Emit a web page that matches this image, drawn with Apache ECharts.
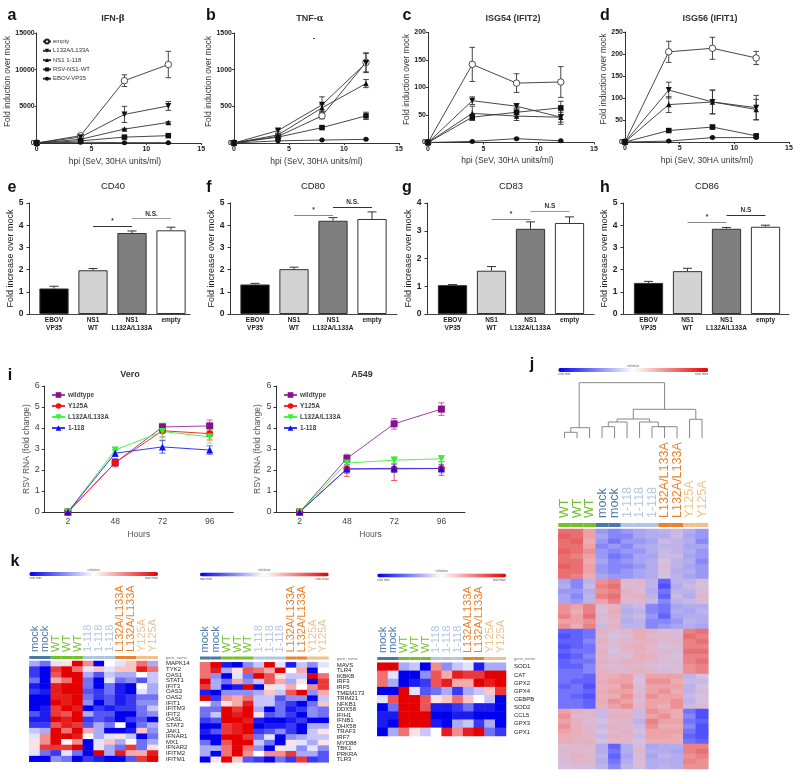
<!DOCTYPE html>
<html>
<head>
<meta charset="utf-8">
<title>NS1 panels</title>
<script src="https://cdn.jsdelivr.net/npm/echarts@6/dist/echarts.min.js"></script>
<style>
html, body { margin: 0; background: #fff; }
#main { width: 800px; height: 777px; filter: blur(0.3px); }
</style>
</head>
<body>
<div id="main"></div>
<script>
// time course panels a-d
const hpi = [0, 4, 8, 12];
const timeNames = ['empty', 'L132A/L133A', 'NS1 1-118', 'RSV-NS1-WT', 'EBOV-VP35'];
const ifnValues = [[0, 1000, 8500, 10700], [0, 800, 3900, 5050], [0, 500, 1900, 2800], [0, 300, 800, 1000], [0, 100, 50, 50]];
const ifnErrors = [[0, 100, 800, 1800], [0, 100, 1100, 600], [0, 60, 100, 120], [0, 50, 60, 80], [0, 20, 20, 20]];
const tnfValues = [[0, 90, 370, 1100], [0, 170, 520, 1090], [0, 110, 480, 810], [0, 80, 210, 370], [0, 30, 40, 50]];
const tnfErrors = [[0, 20, 40, 130], [0, 20, 110, 130], [0, 15, 50, 55], [0, 10, 15, 50], [0, 5, 5, 5]];
const isg54Values = [[0, 142, 108, 110], [0, 76, 66, 46], [0, 53, 48, 46], [0, 46, 55, 63], [0, 2, 7, 3]];
const isg54Errors = [[0, 31, 17, 28], [0, 7, 5, 13], [0, 13, 8, 9], [0, 5, 8, 12], [0, 1, 1, 1]];
const isg56Values = [[0, 205, 213, 191], [0, 118, 91, 78], [0, 85, 91, 74], [0, 26, 34, 14], [0, 2, 10, 10]];
const isg56Errors = [[0, 24, 25, 15], [0, 18, 27, 28], [0, 18, 27, 23], [0, 3, 4, 3], [0, 1, 1, 1]];

// bar panels e-h
const barNames = ['EBOV\nVP35', 'NS1\nWT', 'NS1\nL132A/L133A', 'empty'];
const cd40Values = [1.15, 1.97, 3.65, 3.77];
const cd40Errors = [0.1, 0.08, 0.09, 0.14];
const cd80Values = [1.33, 2.02, 4.2, 4.28];
const cd80Errors = [0.05, 0.09, 0.14, 0.32];
const cd83Values = [1.04, 1.56, 3.07, 3.28];
const cd83Errors = [0.02, 0.15, 0.25, 0.22];
const cd86Values = [1.4, 1.93, 3.84, 3.93];
const cd86Errors = [0.07, 0.13, 0.06, 0.07];
// from category, to category, height, text
const cd40Marks = [[1, 2, 3.96, '*'], [2, 3, 4.3, 'N.S.']];
const cd80Marks = [[1, 2, 4.47, '*'], [2, 3, 4.82, 'N.S.']];
const cd83Marks = [[1, 2, 3.43, '*'], [2, 3, 3.72, 'N.S']];
const cd86Marks = [[1, 2, 4.14, '*'], [2, 3, 4.46, 'N.S']];

// growth curves i, the trailing space keeps the legend apart from panel a
const hours = ['2', '48', '72', '96'];
const rsvNames = ['wildtype', 'Y125A', 'L132A/L133A ', '1-118'];
const veroValues = [[0, 2.35, 4.05, 4.1], [0, 2.35, 3.87, 3.73], [0, 2.95, 3.83, 3.58], [0, 2.8, 3.1, 2.95]];
const veroErrors = [[0, 0.2, 0.15, 0.28], [0, 0.15, 0.3, 0.3], [0, 0.1, 0.4, 0.3], [0, 0.15, 0.3, 0.2]];
const a549Values = [[0, 2.55, 4.2, 4.9], [0, 2.05, 2.05, 2.07], [0, 2.33, 2.47, 2.53], [0, 2.05, 2.08, 2.07]];
const a549Errors = [[0, 0.2, 0.25, 0.3], [0, 0.35, 0.55, 0.33], [0, 0.1, 0.15, 0.15], [0, 0.2, 0.2, 0.2]];

// heatmaps k
const kColumns = ['mock', 'mock', 'WT', 'WT', 'WT', '1-118', '1-118', '1-118', 'L132A/L133A', 'L132A/L133A', 'Y125A', 'Y125A'];
const ifnGenes = ['MAPK14', 'TYK2', 'OAS1', 'STAT1', 'IFIT3', 'OAS3', 'OAS2', 'IFIT1', 'IFITM3', 'IFIT2', 'OASL', 'STAT2', 'JAK1', 'IFNAR1', 'MX1', 'IFNAR2', 'IFITM2', 'IFITM1'];
const ifnRows = [
  [-3, -5, -1, 1, 9, 4, -9, 0, -1, 2, 5, -3],
  [-7, -9, 7, 9, 5, -1, 2, -1, 2, 2, 8, 5],
  [-7, -9, 6, 9, 9, -3, -6, -2, -3, -3, 0, -2],
  [-5, -9, 3, 5, 9, -5, -9, -1, -5, -4, -6, -2],
  [-8, -9, 8, 9, 9, -5, -9, -5, -8, -9, 0, -3],
  [-7, -8, 8, 9, 9, -6, -7, -5, -8, -9, -1, -3],
  [-9, -9, 8, 8, 9, -5, -7, -6, -8, -7, -5, -5],
  [-9, -9, 9, 8, 9, -4, -9, -6, -8, -7, -4, -4],
  [-9, -8, 7, 9, 8, -9, -7, -8, -7, -7, -5, -2],
  [-6, -8, 7, 6, 9, -3, -6, -6, -9, -9, -5, -4],
  [-8, -8, 9, 8, 9, -7, -6, -7, -9, -7, -6, -9],
  [-7, -7, 6, 8, 7, -6, -3, -5, 0, -9, -5, -3],
  [-2, -3, 9, 5, 9, 3, -3, -9, -9, -8, 2, -4],
  [-1, 4, 9, 9, 8, 0, -3, -1, 1, -2, -9, -5],
  [1, 4, 9, 0, 4, -9, -1, 2, -3, 0, -5, -3],
  [1, 7, 7, 7, 9, -9, -1, -3, -5, 7, -5, 1],
  [-1, -5, -7, -1, -5, -9, 9, -3, 8, 3, 3, 8],
  [-9, -9, -4, -5, -9, -7, -8, -9, -9, -6, 7, 9]
];
const sensorGenes = ['MAVS', 'TLR4', 'IKBKB', 'IRF3', 'IRF5', 'TMEM173', 'TRIM21', 'NFKB1', 'DDX58', 'IFIH1', 'IFNB1', 'DHX58', 'TRAF3', 'IRF7', 'MYD88', 'TBK1', 'PRKRA', 'TLR3'];
const sensorRows = [
  [5, 9, -8, -9, -4, -2, 9, -1, -8, -2, -4, -1],
  [5, 8, -3, 1, 6, 5, 3, 9, 0, 3, -9, 0],
  [5, -4, -9, -1, -5, 9, 6, 1, -2, -2, 9, 5],
  [9, -3, -5, 3, -4, -2, 6, 3, -3, 1, -9, 7],
  [7, -3, -9, -8, 9, -9, 1, -1, 3, 0, 4, 7],
  [-8, -9, -4, -4, -4, -3, 2, -2, 6, 9, -4, 3],
  [9, -7, 4, 3, 5, -2, -2, -6, -4, -4, -9, -2],
  [0, -4, 1, 3, 8, -2, -2, -5, -7, -9, -5, 2],
  [-5, -5, 9, 7, 9, -3, -9, -5, -8, -7, -4, -5],
  [-5, -2, 9, 8, 9, 1, -6, -5, -7, -9, -4, -5],
  [-7, -6, 9, 9, 8, -8, -9, -9, -8, -7, -9, -9],
  [-9, -9, 7, 8, 9, -9, -8, -8, -7, -9, -3, -3],
  [-8, -6, 7, 8, 9, -7, -6, -4, -7, -9, -2, 1],
  [-9, -9, 9, 9, 7, -5, -1, -9, -4, -3, -2, -2],
  [-5, -9, 6, 9, 9, -2, -5, -9, 1, -1, -3, 1],
  [-3, -3, 5, 9, 5, -4, -9, 1, -1, -4, -1, -4],
  [-3, -9, 5, 9, 4, 0, 4, 4, 7, -3, -3, -6],
  [-9, 1, 9, 2, -6, -7, -9, -5, -7, 7, -7, -6]
];
const oxGenes = ['SOD1', 'CAT', 'GPX2', 'GPX4', 'CEBPB', 'SOD2', 'CCL5', 'GPX3', 'GPX1'];
const oxRows = [
  [9, 9, -3, -2, -9, 4, -4, -2, -1, -8, -3, -3],
  [5, -1, -9, -9, -4, 6, 3, 8, 7, 7, 9, 9],
  [5, -3, -9, -8, -7, 6, 8, 3, 3, 9, 8, 9],
  [-9, -9, 9, -1, -6, -5, -3, -7, -3, -2, 2, 7],
  [-1, 6, 9, 9, 6, 1, 2, 5, 2, 0, -2, -9],
  [-9, -5, 9, 9, 6, -8, -8, -7, -5, -8, -8, -9],
  [-8, -8, 9, 9, 9, -9, -9, -8, -8, -9, -9, -9],
  [-8, -9, 9, 9, 9, -8, -9, -3, -2, -7, -3, -9],
  [-9, -3, 5, 1, -2, 0, 8, 4, 8, 9, -5, -7]
];

// big heatmap j, rows read top to bottom in strips
const jColumns = ['WT', 'WT', 'WT', 'mock', 'mock', '1-118', '1-118', '1-118', 'L132A/L133A', 'L132A/L133A', 'Y125A', 'Y125A'];
const jRows = [
  [8, 8, 5, -5, -6, -5, -4, -3, -2, -1, -3, -5],
  [9, 8, 5, -4, -6, -6, -4, -3, -3, -1, -4, -5],
  [8, 9, 4, -5, -7, -5, -5, -4, -1, -2, -3, -6],
  [8, 8, 5, -6, -5, -6, -4, -3, -2, -2, -4, -4],
  [9, 8, 6, -5, -6, -5, -5, -3, -1, -2, -3, -5],
  [8, 7, 5, -5, -7, -6, -4, -4, -1, -1, -4, -5],
  [8, 8, 4, -4, -6, -5, -4, -3, 0, -2, -3, -6],
  [9, 8, 5, -5, -6, -6, -5, -3, 1, -2, -4, -5],
  [8, 8, 5, -5, -6, -5, -4, -3, 0, -3, -3, -5],
  [8, 7, 4, -4, -5, -5, -4, -3, 0, -2, -4, -5],
  [-4, -6, -2, 6, 7, 2, 2, -2, -8, -2, -2, 1],
  [-3, -6, -1, 7, 8, 1, 2, -2, -9, -3, -1, 0],
  [-5, -5, -3, 6, 7, 3, 1, -3, -7, -2, -2, 1],
  [-4, -6, -2, 7, 8, 2, 3, -2, -8, -1, -3, 2],
  [-4, -5, -2, 5, 7, 2, 2, -1, -6, -2, -1, 1],
  [6, 5, 7, 1, 3, -2, -1, -6, -7, -4, -3, -3],
  [6, 4, 7, 0, 4, -3, -2, -6, -7, -3, -4, -2],
  [7, 5, 8, 1, 3, -2, -1, -5, -8, -4, -3, -3],
  [5, 5, 6, 1, 2, -3, -2, -6, -6, -5, -2, -3],
  [6, 4, 7, -1, 3, -2, -2, -6, -5, -4, -3, -4],
  [-8, -8, -7, 3, 1, 2, 4, 3, 1, 1, 7, 8],
  [-9, -8, -7, 2, 0, 1, 4, 2, 2, 1, 8, 7],
  [-8, -8, -6, 3, 1, 2, 3, 3, 1, 2, 7, 8],
  [-9, -8, -7, 2, 1, 3, 4, 2, 0, 1, 7, 7],
  [-8, -7, -7, 3, 0, 2, 3, 2, 2, 1, 8, 8],
  [-9, -8, -6, 2, 1, 1, 4, 3, 1, 0, 7, 7],
  [-8, -7, -7, 3, 2, 3, 3, 2, 1, 1, 7, 8],
  [-8, -8, -6, 2, 1, 2, 2, 1, 0, 1, 6, 7],
  [-7, -7, -6, 3, 2, 2, 3, 2, 1, 1, 6, 7],
  [-7, -7, -8, 3, 4, 5, 1, 5, 5, 5, -2, 0],
  [-7, -8, -8, 4, 5, 5, 0, 6, 6, 4, -1, -1],
  [-8, -7, -9, 3, 4, 6, 1, 5, 5, 5, -2, 0],
  [-7, -7, -8, 4, 5, 5, 1, 5, 6, 4, -2, 1],
  [-7, -8, -9, 3, 4, 6, 2, 6, 5, 5, -1, 0],
  [-7, -7, -8, 4, 6, 5, 1, 5, 5, 6, -2, 0],
  [-7, -7, -8, 3, 5, 6, 2, 5, 4, 6, -1, 1],
  [5, 3, 2, -1, 2, 2, -1, 6, 5, 4, -7, -9],
  [6, 2, 2, -1, 3, 3, -1, 5, 6, 4, -6, -9],
  [5, 3, 1, 0, 2, 2, -2, 7, 5, 5, -7, -8],
  [6, 3, 2, -1, 3, 2, -1, 6, 4, 4, -6, -9],
  [5, 4, 2, 0, 2, 3, 0, 5, 5, 5, -7, -9],
  [4, 3, 2, -1, 3, 2, -1, 5, 5, 4, -8, -9],
  [4, 3, 3, 0, 2, 2, 0, 4, 4, 4, -7, -8],
  [1, 2, 2, -3, -8, -3, 1, -4, -3, -3, 7, 7],
  [2, 2, 1, -3, -7, -3, 2, -3, -3, -4, 7, 8],
  [1, 3, 2, -2, -8, -4, 1, -4, -2, -3, 6, 7],
  [1, 2, 2, -3, -7, -3, 1, -3, -3, -3, 7, 6],
  [0, 1, 1, -2, -6, -2, 1, -3, -2, -3, 6, 6]
];
// left x, left height, right x, right height, join height
const dendroJoins = [
  [0.5, 0, 1.5, 0, 5.7], [1, 5.7, 2.5, 0, 10.3],
  [3.5, 0, 4.5, 0, 11.3], [4, 11.3, 5.5, 0, 16],
  [7.5, 0, 8.5, 0, 11.3], [8, 11.3, 9.5, 0, 11.3], [6.5, 0, 8, 11.3, 16],
  [4.7, 16, 7.3, 16, 19], [10.5, 0, 11.5, 0, 18.7],
  [6, 19, 11, 18.7, 28.7], [1.67, 10.3, 8.5, 28.7, 55.3]
];

const FONT = '"Liberation Sans", Arial, sans-serif';
const groupColors = { 'mock': '#4a78a8', 'WT': '#72c02c', '1-118': '#b2c6e4', 'L132A/L133A': '#e8822e', 'Y125A': '#efc28c' };

const grids = [], xAxes = [], yAxes = [], series = [], titles = [], legends = [], visualMaps = [];

function addText(text, x, y, size, weight, color, align, rich) {
  titles.push({
    text: text, left: x, top: y - size / 2, padding: 0, textAlign: align || 'center',
    textStyle: { fontFamily: FONT, fontSize: size, fontWeight: weight, color: color || '#222', lineHeight: size, rich: rich }
  });
}

function addGrid(left, top, width, height) {
  grids.push({ left: left, top: top, width: width, height: height, containLabel: false });
  return grids.length - 1;
}

// error bars as a custom series, upOnly for the bar panels
function errorSeries(gridIdx, points, color, cap, upOnly, width) {
  series.push({
    type: 'custom', xAxisIndex: gridIdx, yAxisIndex: gridIdx, silent: true, z: 3,
    encode: { x: 0, y: 1 }, data: points,
    renderItem: function (params, api) {
      const x = api.value(0), y = api.value(1), e = api.value(2);
      if (!e) return null;
      const top = api.coord([x, y + e]);
      const low = upOnly ? api.coord([x, y]) : api.coord([x, y - e]);
      const st = { stroke: color, lineWidth: width || 1 };
      const kids = [
        { type: 'line', shape: { x1: top[0], y1: top[1], x2: low[0], y2: low[1] }, style: st },
        { type: 'line', shape: { x1: top[0] - cap, y1: top[1], x2: top[0] + cap, y2: top[1] }, style: st }
      ];
      if (!upOnly) kids.push({ type: 'line', shape: { x1: low[0] - cap, y1: low[1], x2: low[0] + cap, y2: low[1] }, style: st });
      return { type: 'group', children: kids };
    }
  });
}

const timeSymbols = ['circle', 'path://M0,0L10,0L5,10Z', 'triangle', 'rect', 'circle'];
const timeSizes = [6.5, 6, 5.5, 5.5, 5];

function timePanel(left, width, top, ymax, step, nameGap, namePad, xPad, values, errors) {
  const g = addGrid(left, top, width, 110);
  xAxes.push({
    gridIndex: g, type: 'value', min: 0, max: 15, interval: 5, splitLine: { show: false },
    axisLine: { lineStyle: { color: '#333', width: 1 } }, axisTick: { length: 2, lineStyle: { color: '#333' } },
    axisLabel: { fontFamily: FONT, fontSize: 7, fontWeight: 'bold', color: '#222', margin: 3 },
    name: 'hpi (SeV, 30HA units/ml)', nameLocation: 'middle', nameGap: 14,
    nameTextStyle: { fontFamily: FONT, fontSize: 8.5, color: '#333', padding: [0, xPad, 0, 0] }
  });
  yAxes.push({
    gridIndex: g, type: 'value', min: 0, max: ymax, interval: step, splitLine: { show: false },
    axisLine: { show: true, lineStyle: { color: '#333', width: 1 } }, axisTick: { show: true, length: 2, lineStyle: { color: '#333' } },
    axisLabel: { fontFamily: FONT, fontSize: 7, fontWeight: 'bold', color: '#222', margin: 2, formatter: v => String(v) },
    name: 'Fold induction over mock', nameLocation: 'middle', nameGap: nameGap,
    nameTextStyle: { fontFamily: FONT, fontSize: 8.2, color: '#333', padding: [0, 0, 0, namePad] }
  });
  timeNames.forEach(function (name, i) {
    // the open circle is a white fill with a thin ring
    const style = i === 0 ? { color: '#fff', borderColor: '#222', borderWidth: 0.8 } : { color: '#111' };
    series.push({
      type: 'line', name: name, xAxisIndex: g, yAxisIndex: g, z: 4,
      data: hpi.map((h, k) => [h, values[i][k]]),
      symbol: timeSymbols[i], symbolSize: timeSizes[i], showAllSymbol: true,
      lineStyle: { color: '#333', width: 0.9 }, itemStyle: style
    });
    errorSeries(g, hpi.map((h, k) => [h, values[i][k], errors[i][k]]), '#333', 2.8, false, 0.9);
  });
}

const rsvColors = ['#8a0f8a', '#f01010', '#30f030', '#1010f0'];
const rsvLines = ['#a040a8', '#f03030', '#50f050', '#3838f0'];
const rsvSymbols = ['rect', 'circle', 'path://M0,0L10,0L5,10Z', 'triangle'];

function rsvPanel(left, values, errors) {
  const g = addGrid(left, 386, 189, 126);
  xAxes.push({
    gridIndex: g, type: 'category', data: hours,
    axisLine: { lineStyle: { color: '#333', width: 1 } }, axisTick: { alignWithLabel: true, length: 2.5, lineStyle: { color: '#333' } },
    axisLabel: { fontFamily: FONT, fontSize: 8.5, color: '#444', margin: 5.5 },
    name: 'Hours', nameLocation: 'middle', nameGap: 18, nameTextStyle: { fontFamily: FONT, fontSize: 8.5, color: '#555' }
  });
  yAxes.push({
    gridIndex: g, type: 'value', min: 0, max: 6, interval: 1, splitLine: { show: false },
    axisLine: { show: true, lineStyle: { color: '#333', width: 1 } }, axisTick: { show: true, length: 2.5, lineStyle: { color: '#333' } },
    axisLabel: { fontFamily: FONT, fontSize: 9, color: '#444', margin: 4.5 },
    name: 'RSV RNA (fold change)', nameLocation: 'middle', nameGap: 13, nameTextStyle: { fontFamily: FONT, fontSize: 8.5, color: '#555' }
  });
  rsvNames.forEach(function (name, i) {
    series.push({
      type: 'line', name: name, xAxisIndex: g, yAxisIndex: g, z: 4,
      data: values[i], symbol: rsvSymbols[i], symbolSize: 7, showAllSymbol: true,
      lineStyle: { color: rsvLines[i], width: 1 }, itemStyle: { color: rsvColors[i] }
    });
    errorSeries(g, hours.map((h, k) => [k, values[i][k], errors[i][k]]), rsvLines[i], 3, false, 0.8);
  });
}

const barFills = ['#000', '#d3d3d3', '#7f7f7f', '#fff'];

function barPanel(axisLeft, axisWidth, barLeft, ymax, nameGap, values, errors, marks, markColors) {
  // frame grid carries the visible axes, the bars sit in an inner grid
  const f = addGrid(axisLeft, 203, axisWidth, 111);
  xAxes.push({
    gridIndex: f, type: 'value', min: 0, max: 1, axisTick: { show: false }, axisLabel: { show: false }, splitLine: { show: false },
    axisLine: { lineStyle: { color: '#444', width: 1.2 } }
  });
  yAxes.push({
    gridIndex: f, type: 'value', min: 0, max: ymax, interval: 1, splitLine: { show: false },
    axisLine: { show: true, lineStyle: { color: '#333', width: 1 } }, axisTick: { show: true, length: 2.5, lineStyle: { color: '#333' } },
    axisLabel: { fontFamily: FONT, fontSize: 8.5, fontWeight: 'bold', color: '#222', margin: 5.5 },
    name: 'Fold increase over mock', nameLocation: 'middle', nameGap: nameGap,
    nameTextStyle: { fontFamily: FONT, fontSize: 9, color: '#222' }
  });
  const g = addGrid(barLeft, 203, 156, 111);
  xAxes.push({
    gridIndex: g, type: 'category', data: barNames, axisLine: { show: false }, axisTick: { show: false },
    axisLabel: { interval: 0, fontFamily: FONT, fontSize: 6.5, fontWeight: 'bold', color: '#222', margin: 2, lineHeight: 8 }
  });
  yAxes.push({ gridIndex: g, type: 'value', min: 0, max: ymax, show: false });
  series.push({
    type: 'bar', xAxisIndex: g, yAxisIndex: g, barCategoryGap: '25%', z: 2,
    data: values.map((v, i) => ({ value: v, itemStyle: { color: barFills[i], borderColor: '#333', borderWidth: 1 } })),
    markLine: {
      silent: true, symbol: ['none', 'none'], animation: false,
      data: marks.map((m, i) => [
        {
          xAxis: m[0], yAxis: m[2], lineStyle: { color: markColors[i], width: 1, type: 'solid' },
          label: { formatter: m[3], position: 'middle', distance: 1, fontFamily: FONT, fontSize: 6.5, fontWeight: 'bold', color: '#333' }
        },
        { xAxis: m[1], yAxis: m[2] }
      ])
    }
  });
  errorSeries(g, values.map((v, i) => [i, v, errors[i]]), '#333', 4.5, true, 1);
}

function colourBar(left, top, width, seriesIdx, colors) {
  visualMaps.push({
    type: 'continuous', min: -9, max: 9, show: true, calculable: false, hoverLink: false, orient: 'horizontal',
    seriesIndex: seriesIdx, left: left, top: top, itemWidth: 4, itemHeight: width, padding: 0, showLabel: false,
    inRange: { color: colors }
  });
  addText('relative', left + width / 2, top - 2.5, 3.8, 'normal', '#666');
  addText('row min', left, top + 6.5, 3.5, 'normal', '#555', 'left');
  addText('row max', left + width, top + 6.5, 3.5, 'normal', '#555', 'right');
}

function bandAndLabels(left, top, width, height, columns, fontSize, margin) {
  const g = addGrid(left, top, width, height);
  xAxes.push({
    gridIndex: g, type: 'category', position: 'top', data: columns, axisLine: { show: false }, axisTick: { show: false },
    axisLabel: { interval: 0, rotate: 90, margin: margin, fontFamily: FONT, fontSize: fontSize, color: (v, i) => groupColors[columns[i]] }
  });
  yAxes.push({ gridIndex: g, type: 'value', min: 0, max: 1, show: false });
  series.push({
    type: 'bar', xAxisIndex: g, yAxisIndex: g, barCategoryGap: 0, silent: true,
    data: columns.map(c => ({ value: 1, itemStyle: { color: groupColors[c] } }))
  });
}

const heatRamp = ['#0000ee', '#ffffff', '#e40000'];

function heatPanel(left, width, barTop, bandTop, heatTop, heatH, genes, rows, geneX) {
  bandAndLabels(left, bandTop, width, 3, kColumns, 11, 4);
  const g = addGrid(left, heatTop, width, heatH);
  xAxes.push({ gridIndex: g, type: 'category', data: kColumns, show: false });
  yAxes.push({
    gridIndex: g, type: 'category', data: genes, inverse: true, position: 'right',
    axisLine: { show: false }, axisTick: { show: false },
    axisLabel: { interval: 0, margin: 8, fontFamily: FONT, fontSize: 6, color: '#222' }
  });
  const cells = [];
  rows.forEach((row, r) => row.forEach((v, c) => cells.push([c, r, v])));
  series.push({ type: 'heatmap', xAxisIndex: g, yAxisIndex: g, data: cells, silent: true });
  colourBar(left, barTop, width, series.length - 1, heatRamp);
  addText('gene_name', geneX, bandTop + 2, 4, 'normal', '#777', 'left');
}

// a-d
timePanel(36.7, 164.5, 33, 15000, 5000, 18, 13, 8, ifnValues, ifnErrors);
timePanel(234, 165, 33, 1500, 500, 15.5, 13, 0, tnfValues, tnfErrors);
timePanel(428, 166, 32.5, 200, 50, 15, 16, 7, isg54Values, isg54Errors);
timePanel(625, 164, 32, 250, 50, 15, 16, 0, isg56Values, isg56Errors);
legends.push({
  left: 42, top: 38.5, orient: 'vertical', padding: 0, itemWidth: 8, itemHeight: 5, itemGap: 3.3, selectedMode: false,
  data: timeNames, textStyle: { fontFamily: FONT, fontSize: 6, color: '#333', padding: [0, 0, 0, -3] }
});

// e-h
barPanel(29, 161, 34.5, 5, 13, cd40Values, cd40Errors, cd40Marks, ['#333', '#999']);
barPanel(230, 167, 235.5, 5, 14, cd80Values, cd80Errors, cd80Marks, ['#888', '#333']);
barPanel(427, 167, 433, 4, 14, cd83Values, cd83Errors, cd83Marks, ['#888', '#999']);
barPanel(623, 166, 629, 5, 14, cd86Values, cd86Errors, cd86Marks, ['#888', '#333']);

// i
rsvPanel(44.3, veroValues, veroErrors);
rsvPanel(276, a549Values, a549Errors);
[51, 283].forEach(function (x) {
  legends.push({
    left: x, top: 391.5, orient: 'vertical', padding: 0, itemWidth: 13, itemHeight: 7, itemGap: 4, selectedMode: false,
    data: rsvNames, textStyle: { fontFamily: FONT, fontSize: 6.5, fontWeight: 'bold', color: '#444', padding: [0, 0, 0, -2] }
  });
});

// j
bandAndLabels(558.3, 523, 150, 4, jColumns, 12.5, 5);
const jGrid = addGrid(558.3, 529, 150, 240);
xAxes.push({ gridIndex: jGrid, type: 'category', data: jColumns, show: false });
yAxes.push({ gridIndex: jGrid, type: 'category', data: jRows.map((r, i) => String(i)), inverse: true, show: false });
const jCells = [];
jRows.forEach((row, r) => row.forEach((v, c) => jCells.push([c, r, v])));
series.push({ type: 'heatmap', xAxisIndex: jGrid, yAxisIndex: jGrid, data: jCells, silent: true });
visualMaps.push({
  type: 'continuous', min: -9, max: 9, show: false, seriesIndex: series.length - 1,
  inRange: { color: ['#5050ff', '#a2a2f4', '#d4c0e0', '#edaab0', '#e86060'] }
});
colourBar(558.3, 368, 150, [], heatRamp);
const dGrid = addGrid(558.3, 382.7, 150, 55.3);
xAxes.push({ gridIndex: dGrid, type: 'value', min: 0, max: 12, show: false });
yAxes.push({ gridIndex: dGrid, type: 'value', min: 0, max: 55.3, show: false });
series.push({
  type: 'custom', xAxisIndex: dGrid, yAxisIndex: dGrid, silent: true, encode: { x: [0, 2], y: [1, 3, 4] }, data: dendroJoins,
  renderItem: function (params, api) {
    const a = api.coord([api.value(0), api.value(1)]), b = api.coord([api.value(0), api.value(4)]);
    const c = api.coord([api.value(2), api.value(4)]), d = api.coord([api.value(2), api.value(3)]);
    return { type: 'polyline', shape: { points: [a, b, c, d] }, style: { stroke: '#888', lineWidth: 1, fill: null } };
  }
});

// k
heatPanel(29.3, 128.7, 572, 656, 661, 100.7, ifnGenes, ifnRows, 165.7);
heatPanel(200, 128.7, 572.5, 656.5, 662.3, 100, sensorGenes, sensorRows, 336.7);
heatPanel(377.3, 128.7, 573.5, 657, 662.7, 73.3, oxGenes, oxRows, 514);

// panel titles and letters
const betaRich = { s: { fontFamily: 'DejaVu Serif', fontSize: 9, color: '#333' } };
addText('IFN-{s|β}', 113, 19, 9, 'bold', '#333', 'center', betaRich);
addText('TNF-{s|α}', 310, 19, 9, 'bold', '#333', 'center', betaRich);
addText('-', 314, 38, 7, 'bold', '#333');
addText('ISG54 (IFIT2)', 513, 19, 9, 'bold', '#333');
addText('ISG56 (IFIT1)', 710, 19, 9, 'bold', '#333');
addText('CD40', 113, 186, 9.4, 'normal', '#222');
addText('CD80', 313, 186, 9.4, 'normal', '#222');
addText('CD83', 511, 186, 9.4, 'normal', '#222');
addText('CD86', 707, 186, 9.4, 'normal', '#222');
addText('Vero', 130, 375, 9, 'bold', '#333');
addText('A549', 362, 375, 9, 'bold', '#333');
[['a', 12, 16], ['b', 211, 16], ['c', 407, 16], ['d', 605, 16],
 ['e', 12, 188], ['f', 209, 188], ['g', 407, 188], ['h', 605, 188],
 ['i', 10, 376], ['j', 532, 365], ['k', 15, 562]].forEach(l => addText(l[0], l[1], l[2], 16, 'bold', '#111'));

const chart = echarts.init(document.getElementById('main'));
chart.setOption({
  animation: false,
  backgroundColor: '#fff',
  textStyle: { fontFamily: FONT },
  title: titles,
  legend: legends,
  grid: grids,
  xAxis: xAxes,
  yAxis: yAxes,
  visualMap: visualMaps,
  series: series
});
</script>
</body>
</html>
